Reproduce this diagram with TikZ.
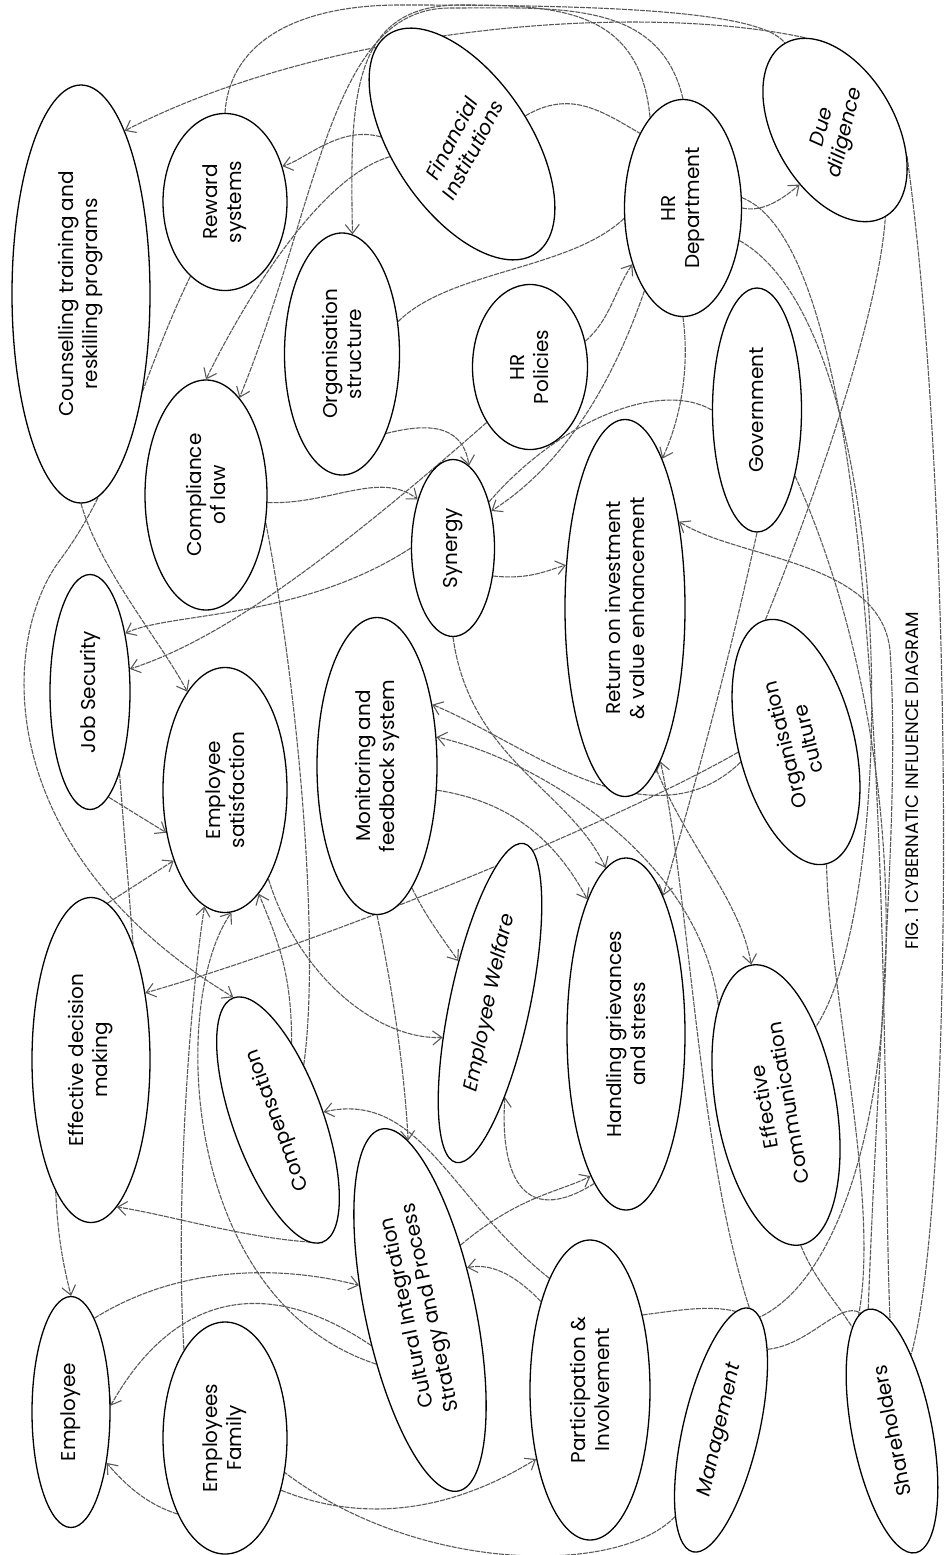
\documentclass[tikz,border=0pt]{standalone}
\usepackage{fontspec}
\setmainfont{Poppins}
\usetikzlibrary{shapes.geometric,arrows.meta,backgrounds}
\newcommand\bubblefont{\fontsize{20}{24}\selectfont}
\newcommand\titlefont{\fontsize{18}{22}\selectfont}
\tikzset{
	bubble/.style={ellipse, draw, line width=1.3pt, fill=white, inner sep=0pt, align=center, font=\bubblefont},
	lbl/.style={inner sep=0pt, align=center, font=\bubblefont},
	sz/.style 2 args={minimum width=#1pt, minimum height=#2pt},
	wire/.style={draw=black!65, line width=1.1pt, dash pattern=on 5pt off 1pt},
	link/.style={wire, -{Straight Barb[length=9pt,width=14pt]}},
}
\begin{document}
\begin{tikzpicture}[x=1pt, y=-1pt]
			\useasboundingbox (0,0) rectangle (945,1555);
			\node[bubble, sz={418}{138}, rotate=90] (coun) at (81,294) {Counselling training and\\reskilling programs};
			\node[bubble, sz={177}{124}, rotate=90] (rew) at (225,202) {Reward\\systems};
			\node[bubble, sz={242}{115}, rotate=90] (ostr) at (342,354) {Organisation\\structure};
			\node[bubble, sz={264}{136}, rotate=124] (fin) at (462,144) {};
			\node[lbl, rotate=62] (fin-t) at (fin) {\itshape Financial\\\itshape Institutions};
			\node[bubble, sz={217}{117}, rotate=90] (hrd) at (683,208) {HR\\Department};
			\node[bubble, sz={200}{120}, rotate=120] (due) at (835,130) {};
			\node[lbl, rotate=76] (due-t) at (due) {\itshape Due\\\itshape diligence};
			\node[bubble, sz={165}{115}, rotate=90] (hrp) at (530,367) {HR\\Policies};
			\node[bubble, sz={244}{89}, rotate=90] (gov) at (757,410) {Government};
			\node[bubble, sz={230}{122}, rotate=90] (law) at (206,495) {Compliance\\of law};
			\node[bubble, sz={177}{83}, rotate=90] (syn) at (453,548) {Synergy};
			\node[bubble, sz={377}{120}, rotate=90] (roi) at (625,608) {Return on investment\\\& value enhancement};
			\node[bubble, sz={235}{80}, rotate=90] (jobs) at (90,692) {Job Security};
			\node[bubble, sz={245}{124}, rotate=90] (esat) at (225,790) {Employee\\satisfaction};
			\node[bubble, sz={297}{120}, rotate=90] (mon) at (377,766) {Monitoring and\\feedback system};
			\node[bubble, sz={251}{116}, rotate=104] (ocul) at (796,742) {Organisation\\culture};
			\node[bubble, sz={325}{118}, rotate=90] (edm) at (91,1060) {Effective decision\\making};
			\node[bubble, sz={260}{90}, rotate=110] (comp) at (278,1120) {Compensation};
			\node[bubble, sz={326}{80}, rotate=78] (welf) at (490,1003) {\itshape Employee Welfare};
			\node[bubble, sz={352}{118}, rotate=90] (hgs) at (626,1034) {Handling grievances\\and stress};
			\node[bubble, sz={284}{120}, rotate=100] (ecom) at (776,1105) {Effective\\Communication};
			\node[bubble, sz={231}{78}, rotate=90] (emp) at (71,1412) {Employee};
			\node[bubble, sz={232}{124}, rotate=90] (fam) at (225,1438) {Employees\\Family};
			\node[bubble, sz={370}{110}, rotate=102] (cult) at (420,1310) {Cultural Integration\\Strategy and Process};
			\node[bubble, sz={300}{120}, rotate=90] (part) at (590,1390) {Participation \&\\Involvement};
			\node[bubble, sz={250}{76}, rotate=77] (mgmt) at (721,1430) {\itshape Management};
			\node[bubble, sz={248}{80}, rotate=101] (share) at (892,1431) {Shareholders};
			\node[lbl, rotate=90, font=\titlefont] (title) at (912,781) {FIG. 1 CYBERNATIC INFLUENCE DIAGRAM};
			
			\begin{scope}[on background layer]
			% top of the sheet
			\draw[link] (due.-12) .. controls (640,2) and (330,25) .. (coun.-15);
			\draw[link] (fin.51) .. controls (340,125) and (305,160) .. (rew.-58);
			\draw[link] (hrd.0) .. controls (660,0) and (560,8) .. (450,8) .. controls (330,8) and (320,200) .. (law.-19);
			\draw[link] (fin.66) .. controls (310,180) and (230,330) .. (law.0);
			\draw[link] (hrd.20) .. controls (640,10) and (560,5) .. (460,5) .. controls (350,5) and (350,100) .. (ostr.-5);
			\draw[wire] (rew.0) .. controls (230,40) and (300,5) .. (400,5) .. controls (600,5) and (760,10) .. (due.0);
			\draw[wire] (fin.-100) .. controls (570,90) and (600,110) .. (hrd.30);
			\draw[wire] (ostr.-60) .. controls (450,270) and (570,270) .. (hrd.100);
			\draw[link] (hrp.-65) .. controls (610,320) and (615,290) .. (hrd.138);
			\draw[link] (hrd.-90) .. controls (760,212) and (778,203) .. (due.117);
			\draw[wire] (ocul.0) .. controls (830,460) and (880,300) .. (due.180);
			
			% left column
			\draw[link] (coun.180) .. controls (100,570) and (160,640) .. (esat.21);
			\draw[link] (rew.155) .. controls (140,380) and (120,480) .. (60,560) .. controls (0,640) and (-10,850) .. (comp.0);
			\draw[link] (jobs.190) -- (esat.126);
			\draw[link] (edm.-6) -- (esat.144);
			\draw[wire] (jobs.-160) -- (edm.-20);
			\draw[link] (syn.90) .. controls (300,620) and (170,612) .. (jobs.-31);
			\draw[link] (hrp.142) .. controls (330,560) and (220,640) .. (jobs.-60);
			\draw[link] (law.-97) .. controls (330,505) and (380,470) .. (syn.36);
			\draw[wire] (law.-115) .. controls (300,700) and (320,950) .. (comp.-45);
			
			% middle
			\draw[link] (ostr.209) .. controls (420,425) and (462,420) .. (syn.-11);
			\draw[link] (hrd.155) .. controls (600,420) and (540,480) .. (syn.-46);
			\draw[wire] (gov.90) .. controls (660,380) and (560,420) .. (syn.-38);
			\draw[link] (syn.-125) .. controls (530,580) and (548,570) .. (roi.54);
			\draw[link] (hrd.180) .. controls (690,370) and (680,420) .. (roi.-14);
			\draw[link] (share.0) .. controls (880,1000) and (900,800) .. (890,650) .. controls (880,560) and (740,560) .. (roi.-32);
			\draw[link] (mgmt.0) .. controls (698,1150) and (690,900) .. (roi.193);
			\draw[link] (ocul.96) .. controls (650,850) and (520,740) .. (mon.-42);
			\draw[link] (ecom.20) .. controls (700,860) and (540,760) .. (mon.-64);
			\draw[link] (syn.180) .. controls (470,760) and (570,790) .. (hgs.7);
			\draw[link] (mon.-112) .. controls (500,800) and (550,830) .. (hgs.16);
			\draw[link] (gov.180) .. controls (720,700) and (690,800) .. (hgs.-15);
			\draw[link] (roi.191) .. controls (690,850) and (740,900) .. (ecom.0);
			\draw[link] (mon.-164) .. controls (425,915) and (440,935) .. (welf.49);
			\draw[link] (esat.-154) .. controls (300,980) and (380,1040) .. (welf.138);
			\draw[link] (hgs.168) .. controls (520,1230) and (500,1170) .. (welf.-159);
			\draw[link] (ocul.86) .. controls (620,820) and (330,940) .. (edm.-39);
			
			% lower half
			\draw[link] (part.20) .. controls (450,1200) and (420,1090) .. (comp.-100);
			\draw[link] (mon.180) .. controls (395,1000) and (405,1080) .. (cult.-8);
			\draw[link] (emp.-14) .. controls (180,1265) and (280,1265) .. (cult.56);
			\draw[link] (part.29) .. controls (520,1280) and (495,1262) .. (cult.-60);
			\draw[link] (fam.-133) .. controls (380,1530) and (470,1500) .. (part.142);
			\draw[link] (cult.-44) .. controls (520,1195) and (560,1192) .. (hgs.166);
			\draw[link] (comp.180) .. controls (250,1240) and (170,1215) .. (edm.-170);
			\draw[link] (edm.165) .. controls (58,1245) and (66,1275) .. (emp.0);
			\draw[link] (cult.114) .. controls (260,1270) and (170,1300) .. (emp.-81);
			\draw[link] (fam.148) .. controls (150,1505) and (130,1490) .. (emp.-145);
			\draw[link] (fam.25) .. controls (175,1200) and (190,1000) .. (esat.170);
			\draw[link] (cult.129) .. controls (180,1300) and (170,1000) .. (esat.183);
			\draw[link] (comp.-30) .. controls (292,975) and (278,940) .. (esat.198);
			
			% right edge and bottom
			\draw[wire] (due.-140) .. controls (955,500) and (955,1200) .. (share.-25);
			\draw[wire] (hrd.-80) .. controls (900,260) and (880,1100) .. (share.-10);
			\draw[wire] (gov.-150) .. controls (940,800) and (900,1250) .. (mgmt.-6);
			\draw[wire] (hrd.-120) .. controls (900,330) and (900,900) .. (ecom.-37);
			\draw[wire] (ocul.180) .. controls (830,1000) and (880,1200) .. (share.5);
			\draw[wire] (ecom.180) .. controls (815,1280) and (835,1300) .. (share.10);
			\draw[wire] (part.-35) .. controls (680,1310) and (710,1305) .. (mgmt.6);
			\draw[wire] (mgmt.-17) .. controls (810,1345) and (840,1300) .. (share.4);
			\draw[wire] (mgmt.165) .. controls (620,1575) and (420,1575) .. (fam.-120);
			\end{scope}
\end{tikzpicture}
\end{document}
